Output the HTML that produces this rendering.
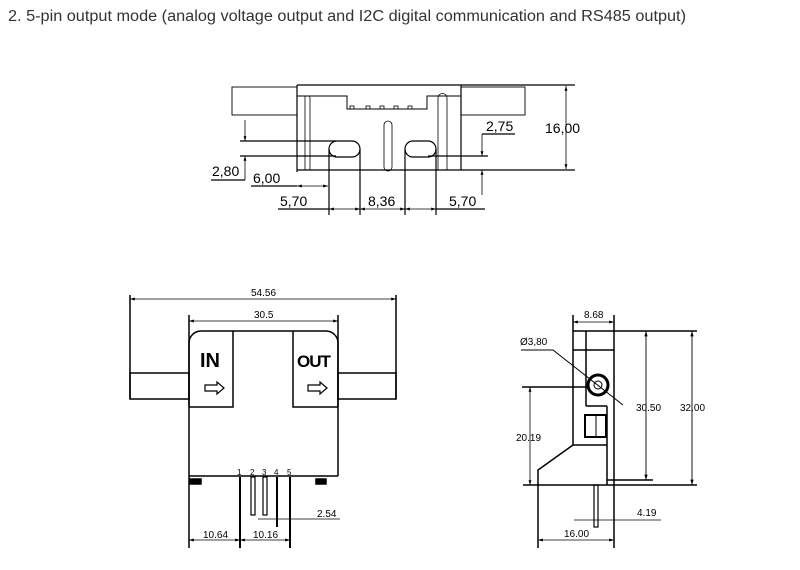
<!DOCTYPE html>
<html><head><style>
body{margin:0;background:#fff;width:800px;height:570px;overflow:hidden}
svg{position:absolute;left:0;top:0}
.t{font-family:"Liberation Sans",sans-serif}
</style></head><body>
<svg width="800" height="570" viewBox="0 0 800 570" xmlns="http://www.w3.org/2000/svg">
<defs>
<marker id="a" viewBox="0 0 10 10" refX="10" refY="5" markerWidth="6" markerHeight="6" orient="auto-start-reverse"><path d="M0,2L10,5L0,8z" fill="#000"/></marker>
</defs>
<text x="8" y="21" class="t" font-size="15.5" fill="#333" textLength="678" lengthAdjust="spacingAndGlyphs">2. 5-pin output mode (analog voltage output and I2C digital communication and RS485 output)</text>

<!-- TOP DRAWING -->
<g stroke="#000" fill="none" stroke-width="1.2">
<rect x="232" y="87" width="65" height="28" stroke-width="0.9"/>
<rect x="461" y="87" width="64" height="28" stroke-width="0.9"/>
<line x1="297" y1="85" x2="575" y2="85"/>
<line x1="297" y1="85" x2="297" y2="172"/>
<line x1="461" y1="85" x2="461" y2="170"/>
<line x1="297" y1="170" x2="575" y2="170"/>
<polyline points="297,96 347,96 347,109 427,109 427,96 461,96" stroke-width="1"/>
<g stroke-width="0.8"><rect x="350" y="106" width="4" height="3"/><rect x="366" y="106" width="4" height="3"/><rect x="380" y="106" width="4" height="3"/><rect x="394" y="106" width="4" height="3"/><rect x="408" y="106" width="4" height="3"/></g>
<path d="M305,170V96h3a2,2 0 0 1 2,2V170" stroke-width="0.8"/>
<path d="M438,170V98a4,4 0 0 1 9,0V170" stroke-width="0.8"/>
<rect x="384" y="121" width="8" height="50" rx="4" stroke-width="0.8"/>
<rect x="329" y="141" width="31" height="16" rx="8"/>
<rect x="405" y="141" width="31" height="16" rx="8"/>
<line x1="240" y1="141" x2="336" y2="141"/>
<line x1="240" y1="156" x2="336" y2="156"/>
<line x1="245" y1="120" x2="245" y2="141" marker-end="url(#a)" stroke-width="0.8"/>
<line x1="245" y1="180" x2="245" y2="156" marker-end="url(#a)" stroke-width="0.8"/>
<line x1="211" y1="180" x2="245" y2="180"/>
<line x1="251" y1="186" x2="297" y2="186"/>
<line x1="297" y1="186" x2="328" y2="186" marker-start="url(#a)" marker-end="url(#a)" stroke-width="0.8"/>
<line x1="329" y1="149" x2="329" y2="215"/>
<line x1="360" y1="149" x2="360" y2="215"/>
<line x1="405" y1="149" x2="405" y2="215"/>
<line x1="436" y1="149" x2="436" y2="215"/>
<line x1="278" y1="209" x2="329" y2="209"/>
<line x1="329" y1="209" x2="360" y2="209" marker-start="url(#a)" marker-end="url(#a)" stroke-width="0.8"/>
<line x1="360" y1="209" x2="405" y2="209" marker-start="url(#a)" marker-end="url(#a)" stroke-width="0.8"/>
<line x1="405" y1="209" x2="436" y2="209" marker-start="url(#a)" marker-end="url(#a)" stroke-width="0.8"/>
<line x1="436" y1="209" x2="485" y2="209"/>
<line x1="428" y1="156" x2="488" y2="156"/>
<line x1="482" y1="134" x2="515" y2="134"/>
<line x1="482" y1="134" x2="482" y2="156" marker-end="url(#a)" stroke-width="0.8"/>
<line x1="482" y1="195" x2="482" y2="170" marker-end="url(#a)" stroke-width="0.8"/>
<line x1="566" y1="86" x2="566" y2="169" marker-start="url(#a)" marker-end="url(#a)" stroke-width="0.8"/>
</g>
<g class="t" font-size="14" fill="#000">
<text x="212" y="176">2,80</text>
<text x="253" y="183">6,00</text>
<text x="280" y="206">5,70</text>
<text x="368" y="206">8,36</text>
<text x="449" y="206">5,70</text>
<text x="486" y="131">2,75</text>
<text x="545" y="133">16,00</text>
</g>

<!-- BOTTOM LEFT -->
<g stroke="#000" fill="none" stroke-width="1.5">
<line x1="130" y1="295" x2="130" y2="399"/>
<line x1="396" y1="295" x2="396" y2="399"/>
<line x1="130" y1="299" x2="396" y2="299" marker-start="url(#a)" marker-end="url(#a)" stroke-width="0.8"/>
<line x1="189" y1="315" x2="189" y2="548"/>
<line x1="338" y1="315" x2="338" y2="476"/>
<line x1="189" y1="321" x2="338" y2="321" marker-start="url(#a)" marker-end="url(#a)" stroke-width="0.8"/>
<rect x="130" y="373" width="59" height="26"/>
<rect x="338" y="373" width="58" height="26"/>
<path d="M189,407V343a12,12 0 0 1 12,-12H326a12,12 0 0 1 12,12V407"/>
<line x1="189" y1="476" x2="338" y2="476"/>
<polyline points="233,331 233,407 189,407"/>
<polyline points="293,331 293,407 338,407"/>
<rect x="190" y="479" width="11" height="5" fill="#000"/>
<rect x="316" y="479" width="10" height="5" fill="#000"/>
<path d="M205,385h12v-3l7,6l-7,6v-3h-12z" stroke-width="1.2"/>
<path d="M308,385h12v-3l7,6l-7,6v-3h-12z" stroke-width="1.2"/>
<line x1="240" y1="477" x2="240" y2="548" stroke-width="2"/>
<rect x="251" y="477" width="4" height="38" stroke-width="1.2"/>
<rect x="263" y="477" width="4" height="38" stroke-width="1.2"/>
<line x1="277" y1="477" x2="277" y2="527" stroke-width="2"/>
<line x1="290" y1="477" x2="290" y2="548" stroke-width="2"/>
<line x1="189" y1="540" x2="240" y2="540" marker-start="url(#a)" marker-end="url(#a)" stroke-width="0.8"/>
<line x1="240" y1="540" x2="290" y2="540" marker-start="url(#a)" marker-end="url(#a)" stroke-width="0.8"/>
<line x1="258" y1="519" x2="340" y2="519" stroke-width="0.8"/>
</g>
<g class="t" fill="#000">
<text x="251" y="296" font-size="10">54.56</text>
<text x="254" y="318" font-size="10">30.5</text>
<text x="200" y="367" font-size="20" font-weight="bold">IN</text>
<text x="297" y="367" font-size="17" font-weight="bold" letter-spacing="-1">OUT</text>
<text x="237" y="475" font-size="8">1</text>
<text x="250" y="475" font-size="8">2</text>
<text x="262" y="475" font-size="8">3</text>
<text x="274" y="475" font-size="8">4</text>
<text x="287" y="475" font-size="8">5</text>
<text x="317" y="517" font-size="10">2.54</text>
<text x="203" y="538" font-size="10">10.64</text>
<text x="253" y="538" font-size="10">10.16</text>
</g>

<!-- RIGHT -->
<g stroke="#000" fill="none" stroke-width="1.5">
<line x1="573" y1="315" x2="573" y2="445"/>
<line x1="614" y1="315" x2="614" y2="548"/>
<line x1="573" y1="322" x2="614" y2="322" marker-start="url(#a)" marker-end="url(#a)" stroke-width="0.8"/>
<line x1="573" y1="331" x2="697" y2="331"/>
<line x1="586" y1="331" x2="586" y2="406"/>
<line x1="573" y1="350" x2="614" y2="350"/>
<circle cx="598" cy="385" r="10" stroke-width="3"/>
<circle cx="598" cy="385" r="4" stroke-width="1"/>
<polyline points="521,350 553,350 623,405" stroke-width="1"/>
<line x1="522" y1="387" x2="588" y2="387"/>
<line x1="530" y1="387" x2="530" y2="485" marker-start="url(#a)" marker-end="url(#a)" stroke-width="0.8"/>
<line x1="586" y1="406" x2="607" y2="406"/>
<rect x="585" y="415" width="21" height="22" stroke-width="2"/>
<line x1="596" y1="415" x2="596" y2="437" stroke-width="1"/>
<polyline points="607,406 607,485"/>
<polyline points="607,445 573,445 538,470 538,548"/>
<line x1="523" y1="485" x2="697" y2="485"/>
<line x1="607" y1="480" x2="653" y2="480"/>
<line x1="646" y1="331" x2="646" y2="480" marker-start="url(#a)" marker-end="url(#a)" stroke-width="0.9"/>
<line x1="692" y1="331" x2="692" y2="485" marker-start="url(#a)" marker-end="url(#a)" stroke-width="0.9"/>
<rect x="594" y="485" width="4" height="42" stroke-width="1.2"/>
<line x1="574" y1="520" x2="661" y2="520" stroke-width="0.8"/>
<line x1="538" y1="540" x2="614" y2="540" marker-start="url(#a)" marker-end="url(#a)" stroke-width="0.8"/>
</g>
<g class="t" fill="#000" font-size="10">
<text x="584" y="318">8.68</text>
<text x="520" y="345">Ø3,80</text>
<text x="516" y="441">20.19</text>
<text x="636" y="411">30.50</text>
<text x="680" y="411">32.00</text>
<text x="637" y="516">4.19</text>
<text x="564" y="537">16.00</text>
</g>
</svg>
</body></html>
